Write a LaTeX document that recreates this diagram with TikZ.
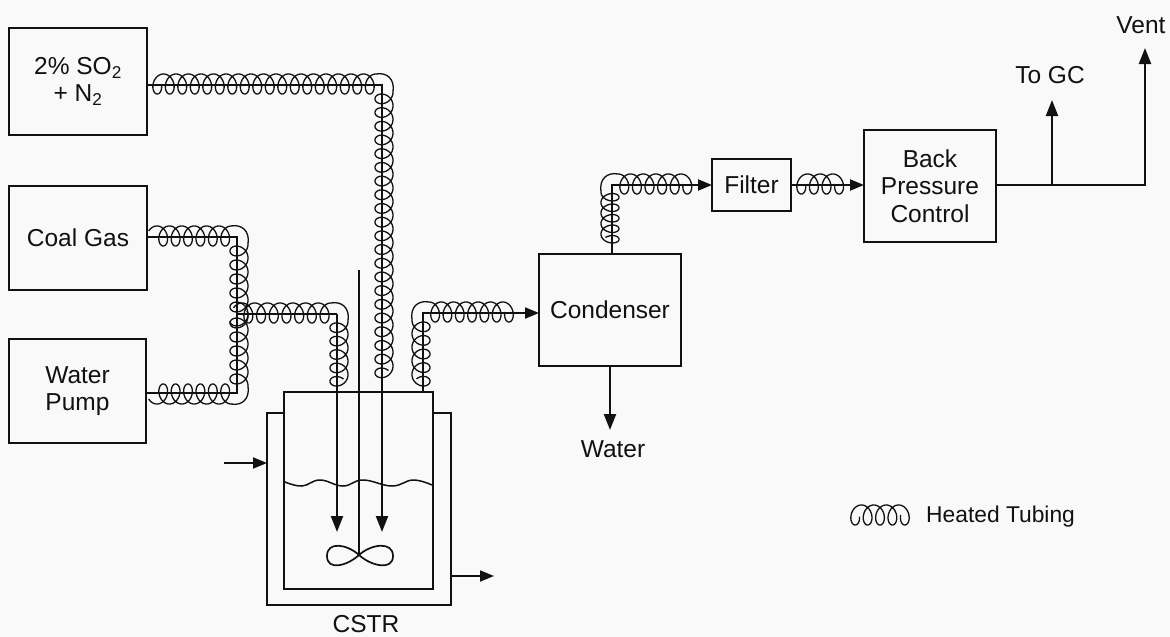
\documentclass[tikz,border=0pt]{standalone}
\usepackage{fontspec}
\setmainfont{Liberation Sans}
\usetikzlibrary{arrows.meta}
\definecolor{paper}{HTML}{F9F9F9}
\definecolor{ink}{HTML}{111111}
\tikzset{
  boxnode/.style={draw=ink,line width=2.3pt,outer sep=0pt,inner sep=0pt,align=center,text=ink,font=\fontsize{24.5}{27.5}\selectfont},
  label/.style={inner sep=0pt,text=ink,align=center,font=\fontsize{24.5}{27.5}\selectfont},
  pipe/.style={draw=ink,line width=2.2pt},
  thinpipe/.style={draw=ink,line width=1.8pt},
  flow/.style={-{Triangle[length=14pt,width=11pt]}},
  bigflow/.style={-{Triangle[length=16pt,width=12pt]}},
  coil/.style={draw=ink,line width=1.3pt,line join=round},
  vessel/.style={draw=ink,line width=2.3pt}
}
% horizontal coil: start, pitch, t-min, t-max, side (-1 arcs above, +1 arcs below)
\newcommand{\coilH}[5]{\begin{scope}[shift={(#1)}]
 \draw[coil] plot[variable=\t,domain=#3:#4,samples=900] ({#2*(\t/360)+0.58*#2*sin(\t)},{(#5)*(1+10*cos(\t))});
\end{scope}}
% vertical coil: start, pitch, t-min, t-max, side (+1 arcs right, -1 arcs left)
\newcommand{\coilV}[5]{\begin{scope}[shift={(#1)}]
 \draw[coil] plot[variable=\t,domain=#3:#4,samples=900] ({(#5)*(2+9*cos(\t))},{#2*(\t/360)+0.58*#2*sin(\t)});
\end{scope}}
\newcommand{\coilturn}[3]{\begin{scope}[shift={(#1)},xscale=#2,yscale=#3]
 \draw[coil] (-6,-11) .. controls (5,-13) and (13,-6) .. (11,7);
\end{scope}}
\begin{document}
\begin{tikzpicture}[x=1pt,y=-1pt]
\useasboundingbox (0,0) rectangle (1170,637);
\fill[paper] (0,0) rectangle (1170,637);
% boxes
\node[boxnode,minimum width=138pt,minimum height=107pt] (so2) at (78,81.5) {2\% SO\textsubscript{2}\\+ N\textsubscript{2}};
\node[boxnode,minimum width=138pt,minimum height=104pt] (coal) at (78,238) {Coal Gas};
\node[boxnode,minimum width=137pt,minimum height=104pt] (pump) at (77.5,391) {Water\\Pump};
\node[boxnode,minimum width=142pt,minimum height=112pt] (cond) at (610,310) {Condenser};
\node[boxnode,minimum width=79pt,minimum height=52pt,line width=1.8pt] (filter) at (751.5,185) {Filter};
\node[boxnode,minimum width=132pt,minimum height=112pt] (bpc) at (930,186) {Back\\Pressure\\Control};
% labels
\node[label] (water) at (613,449) {Water};
\node[label] (togc) at (1050,75) {To GC};
\node[label] (vent) at (1141,25) {Vent};
\node[label] (cstr) at (366,624) {CSTR};
\node[label,anchor=west,font=\fontsize{22.8}{26}\selectfont] (legend) at (926,517) {Heated Tubing};
% reactor
\node[vessel,draw,minimum width=149pt,minimum height=197pt,inner sep=0pt,outer sep=0pt] (tank) at (358.5,490.5) {};
\coordinate (jtl) at (267,413);
\coordinate (jtr) at (451,413);
\coordinate (jbl) at (267,605);
\coordinate (jbr) at (451,605);
\draw[vessel,line join=miter] (tank.west |- jtl) -- (jtl) -- (jbl) -- (jbr) -- (jtr) -- (tank.east |- jtr);
% liquid level
\draw[draw=ink,line width=1.5pt] plot[smooth,tension=0.7] coordinates {(285,482) (302,486) (320,480) (343,486) (363,480) (392,486) (413,480) (432,485)};
% stirrer
\coordinate (stirtop) at (359,270);
\coordinate (hub) at (359,555);
\draw[pipe,line width=2.3pt] (stirtop) -- (hub);
\draw[draw=ink,line width=1.7pt] (hub) .. controls (347,544) and (327,541) .. (327,556) .. controls (327,571) and (347,566) .. (hub) .. controls (371,544) and (393,541) .. (393,556) .. controls (393,571) and (371,566) .. (hub);
% jacket flows
\coordinate (jin) at (224,463);
\coordinate (jout) at (494,576);
\draw[thinpipe,flow] (jin) -- (jtl |- jin);
\draw[thinpipe,flow] (jbr |- jout) -- (jout);
% corner and junction points
\coordinate (c1) at (382,85);
\coordinate (c2) at (237,237);
\coordinate (c3) at (237,393);
\coordinate (c4) at (237,314);
\coordinate (c5) at (337,314);
\coordinate (c6) at (423,313);
\coordinate (c7) at (612,185);
\coordinate (c8) at (1145,185);
\coordinate (c9) at (1052,185);
\coordinate (t1) at (382,532);
\coordinate (t2) at (337,532);
\coordinate (t3) at (1145,48);
\coordinate (t4) at (1052,100);
\coordinate (t5) at (610,430);
% connectors
\draw[pipe,bigflow] (so2.east |- c1) -- (c1) -- (t1);
\draw[pipe] (coal.east |- c2) -- (c2) -- (c3) -- (pump.east |- c3);
\draw[pipe] (c4) -- (c5);
\draw[pipe,bigflow] (c5) -- (t2);
\draw[pipe,line width=1.9pt,flow] (c6 |- tank.north) -- (c6) -- (cond.west |- c6);
\draw[pipe,flow] (cond.north -| c7) -- (c7) -- (filter.west);
\draw[pipe,flow] (filter.east) -- (bpc.west |- filter.east);
\draw[pipe,bigflow] (cond.south -| t5) -- (t5);
\draw[pipe,bigflow] (bpc.east |- c8) -- (c8) -- (t3);
\draw[pipe,bigflow] (c9) -- (t4);
% coils
\coordinate (h1) at (151,85);
\coilH{h1}{12.5}{100}{6480}{-1}
\coilturn{c1}{1}{1}
\coordinate (v1) at (382,92);
\coilV{v1}{13.7}{0}{7500}{1}
\coordinate (h2) at (157,237);
\coilH{h2}{12.4}{-60}{2160}{-1}
\coilturn{c2}{1}{1}
\coordinate (v2) at (237,244);
\coilV{v2}{14}{0}{1980}{1}
\coordinate (h3) at (157,393);
\coilH{h3}{12.4}{-60}{2160}{1}
\coilturn{c3}{1}{-1}
\coordinate (v3) at (237,316);
\coilV{v3}{14}{-30}{1800}{1}
\coordinate (h4) at (242,314);
\coilH{h4}{12.7}{-60}{2520}{-1}
\coilturn{c5}{1}{1}
\coordinate (v4) at (337,321);
\coilV{v4}{13.4}{0}{1740}{1}
\coordinate (v5) at (423,320);
\coilV{v5}{13.6}{0}{1740}{-1}
\coilturn{c6}{-1}{1}
\coordinate (h5) at (429,313);
\coilH{h5}{12.3}{0}{2430}{-1}
\coordinate (v6) at (612,192);
\coilV{v6}{10.5}{0}{1740}{-1}
\coilturn{c7}{-1}{1}
\coordinate (h6) at (618,185);
\coilH{h6}{12.6}{0}{2070}{-1}
\coordinate (h7) at (795,185);
\coilH{h7}{12.6}{100}{1350}{-1}
\coordinate (h8) at (849,516);
\coilH{h8}{12.4}{100}{1710}{-1}
\end{tikzpicture}
\end{document}
